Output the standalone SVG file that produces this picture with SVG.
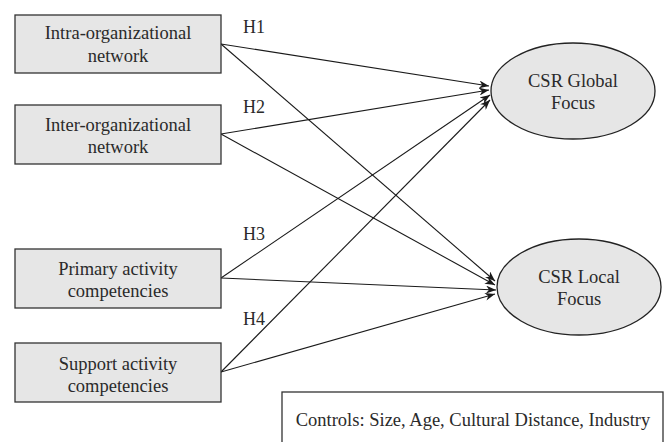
<svg xmlns="http://www.w3.org/2000/svg" width="665" height="442" viewBox="0 0 665 442">
<defs>
<marker id="arr" viewBox="0 0 10 8" refX="10" refY="4" markerWidth="10" markerHeight="8" markerUnits="userSpaceOnUse" orient="auto">
<path d="M0,0 L10,4 L0,8 L3,4 z" fill="#1a1a1a"/>
</marker>
<style>
.box{fill:#e6e6e6;stroke:#333;stroke-width:1.3}
.ell{fill:#e6e6e6;stroke:#222;stroke-width:1.3}
.t{font-family:"Liberation Serif","Times New Roman",serif;font-size:18.5px;fill:#2a2a2a;text-anchor:middle}
.h{font-family:"Liberation Serif","Times New Roman",serif;font-size:18px;fill:#2a2a2a}
.c{fill:none;stroke:#1a1a1a;stroke-width:1.1;marker-end:url(#arr)}
</style>
</defs>
<rect width="665" height="442" fill="#fff"/>
<g id="connectors">
<line class="c" x1="221" y1="44" x2="489" y2="86"/>
<line class="c" x1="221" y1="44" x2="495" y2="281"/>
<line class="c" x1="221" y1="134" x2="489" y2="90"/>
<line class="c" x1="221" y1="134" x2="495" y2="285"/>
<line class="c" x1="221" y1="278" x2="490" y2="95"/>
<line class="c" x1="221" y1="278" x2="496" y2="290"/>
<line class="c" x1="221" y1="372" x2="490" y2="100"/>
<line class="c" x1="221" y1="372" x2="495" y2="294"/>
<text class="h" x="243" y="33">H1</text>
<text class="h" x="243" y="113">H2</text>
<text class="h" x="243" y="240">H3</text>
<text class="h" x="243" y="325">H4</text>
</g>
<g id="intra">
<rect class="box" x="15" y="15" width="206" height="58"/>
<text class="t" x="118" y="39">Intra-organizational</text>
<text class="t" x="118" y="62">network</text>
</g>
<g id="inter">
<rect class="box" x="15" y="105" width="206" height="59"/>
<text class="t" x="118" y="131">Inter-organizational</text>
<text class="t" x="118" y="153">network</text>
</g>
<g id="primary">
<rect class="box" x="15" y="249" width="206" height="59"/>
<text class="t" x="118" y="275">Primary activity</text>
<text class="t" x="118" y="297">competencies</text>
</g>
<g id="support">
<rect class="box" x="15" y="343" width="206" height="59"/>
<text class="t" x="118" y="370">Support activity</text>
<text class="t" x="118" y="392">competencies</text>
</g>
<g id="global">
<ellipse class="ell" cx="573" cy="91" rx="82" ry="48"/>
<text class="t" x="573" y="87">CSR Global</text>
<text class="t" x="573" y="109">Focus</text>
</g>
<g id="local">
<ellipse class="ell" cx="579" cy="287" rx="82" ry="48"/>
<text class="t" x="579" y="283">CSR Local</text>
<text class="t" x="579" y="305">Focus</text>
</g>
<g id="controls">
<rect x="282" y="392" width="381" height="52" fill="#fff" stroke="#333" stroke-width="1.3"/>
<text class="t" x="473" y="426">Controls: Size, Age, Cultural Distance, Industry</text>
</g>
</svg>
